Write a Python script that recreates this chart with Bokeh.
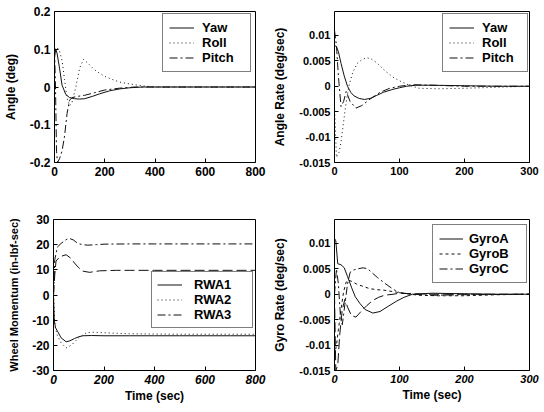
from bokeh.plotting import figure
from bokeh.layouts import column, row
from bokeh.models import Range1d, FixedTicker, Legend, LegendItem
from bokeh.embed import file_html
from bokeh.resources import INLINE

FONT = "Liberation Sans"

# ---------------- data ----------------
# Panel 1: Angle (deg)
yaw_t = [0, 5, 10, 20, 30, 45, 60, 80, 100, 120, 150, 180, 220, 260, 300, 350, 400, 500, 600, 700, 800]
yaw_v = [0.08, 0.1, 0.09, 0.05, 0.005, -0.02, -0.028, -0.031, -0.032, -0.031, -0.025, -0.018, -0.01, -0.005, -0.002, 0.0, 0.0, 0.0, 0.0, 0.0, 0.0]
roll_t = [0, 10, 20, 30, 40, 50, 60, 70, 85, 100, 115, 130, 160, 200, 230, 260, 300, 350, 400, 500, 600, 800]
roll_v = [0.1, 0.105, 0.095, 0.07, 0.02, -0.03, -0.05, -0.04, 0.0, 0.05, 0.073, 0.065, 0.045, 0.028, 0.02, 0.013, 0.008, 0.003, 0.0, 0.0, 0.0, 0.0]
pitch_t = [0, 4, 8, 12, 20, 30, 40, 50, 60, 70, 90, 120, 160, 200, 260, 320, 400, 800]
pitch_v = [0.1, 0.0, -0.17, -0.2, -0.19, -0.17, -0.13, -0.07, -0.035, -0.028, -0.025, -0.022, -0.015, -0.008, -0.003, 0.0, 0.0, 0.0]

# Panel 2: Angle Rate (deg/sec)
yaw2_t = [0, 3, 6, 10, 15, 20, 25, 30, 38, 46, 55, 65, 75, 90, 100, 111, 125, 150, 200, 250, 300]
yaw2_v = [0.008, 0.0078, 0.0068, 0.0045, 0.002, 0.0, -0.0012, -0.0019, -0.0024, -0.0026, -0.0024, -0.0018, -0.0012, -0.0006, -0.0003, 0.0, 0.0002, 0.0002, 0.0001, 0.0, 0.0]
roll2_t = [0, 3, 7, 10, 13, 17, 22, 28, 35, 43, 50, 56, 65, 78, 90, 101, 115, 130, 160, 200, 250, 300]
roll2_v = [-0.004, -0.014, -0.013, -0.011, -0.008, -0.004, 0.0, 0.0027, 0.0045, 0.0053, 0.0056, 0.0054, 0.0046, 0.003, 0.0018, 0.001, 0.0002, -0.0004, -0.0005, -0.0004, -0.0002, 0.0]
pitch2_t = [0, 3, 6, 10, 14, 18, 24, 33, 42, 55, 70, 85, 100, 120, 150, 200, 300]
pitch2_v = [0.011, 0.008, 0.002, -0.004, -0.003, -0.001, -0.003, -0.0043, -0.0038, -0.0025, -0.0012, -0.0004, 0.0, 0.0003, 0.0002, 0.0, 0.0]

# Panel 3: Wheel Momentum (in-lbf-sec)
rwa1_t = [0, 3, 8, 17, 30, 50, 65, 83, 100, 116, 150, 200, 300, 400, 500, 600, 700, 800]
rwa1_v = [0, -10, -13, -14.6, -17, -18.6, -18.2, -17.3, -16.6, -16.2, -16.1, -16.2, -16.2, -16.2, -16.2, -16.2, -16.2, -16.2]
rwa2_t = [0, 5, 15, 30, 50, 70, 100, 130, 160, 200, 250, 300, 400, 500, 600, 700, 800]
rwa2_v = [0, -12, -16, -19, -21, -20, -17, -15, -14.8, -15, -15.2, -15.4, -15.5, -15.6, -15.6, -15.6, -15.6]
rwa3_t = [0, 5, 15, 30, 50, 63, 80, 96, 115, 136, 170, 200, 300, 400, 500, 600, 700, 800]
rwa3_v = [0, 14, 19, 20.5, 22, 22.5, 21.8, 20.5, 20, 19.8, 20, 20.2, 20.3, 20.3, 20.3, 20.3, 20.3, 20.3]
rwa4_t = [0, 5, 10, 25, 50, 70, 83, 100, 115, 143, 182, 250, 300, 400, 500, 600, 700, 800]
rwa4_v = [0, 8, 13.5, 15.2, 16, 14.5, 12.7, 10.8, 9.5, 9.0, 9.6, 9.8, 9.8, 9.8, 9.8, 9.8, 9.8, 9.8]

# Panel 4: Gyro Rate (deg/sec)
gyroA_t = [0, 2, 5, 10, 15, 20, 26, 32, 39, 47, 59, 70, 81, 95, 107, 120, 150, 200, 250, 300]
gyroA_v = [0.011, 0.0105, 0.006, 0.0058, 0.0052, 0.0035, 0.0014, -0.0005, -0.0018, -0.003, -0.0037, -0.0034, -0.0025, -0.0014, -0.0006, 0.0, 0.0002, 0.0001, 0.0, 0.0]
gyroB_t = [0, 3, 6, 10, 14, 18, 21, 27, 34, 45, 54, 65, 76, 96, 110, 130, 160, 200, 250, 300]
gyroB_v = [-0.012, -0.01, -0.007, -0.003, 0.0005, 0.0024, 0.0028, 0.0025, 0.002, 0.0015, 0.0011, 0.0009, 0.0008, 0.0004, 0.0001, -0.0002, -0.0003, -0.0003, -0.0001, 0.0]
gyroC_t = [0, 3, 6, 9, 12, 16, 20, 24, 30, 36, 44, 51, 58, 66, 78, 90, 100, 120, 150, 200, 300]
gyroC_v = [0.0, 0.005, 0.002, -0.004, -0.006, -0.002, 0.002, 0.0043, 0.0048, 0.005, 0.0052, 0.005, 0.0042, 0.0033, 0.0021, 0.001, 0.0003, 0.0, -0.0002, -0.0001, 0.0]
gyroD_t = [0, 2, 5, 8, 12, 16, 20, 26, 33, 40, 50, 59, 68, 77, 90, 100, 120, 150, 200, 300]
gyroD_v = [0.0, -0.015, -0.014, -0.008, -0.003, -0.001, -0.0025, -0.0042, -0.0045, -0.0035, -0.0022, -0.0012, -0.0006, -0.0002, 0.0, 0.0002, 0.0001, 0.0, 0.0, 0.0]

# ticks
x_ticks_800 = [0, 200, 400, 600, 800]
x_labels_800 = ["0", "200", "400", "600", "800"]
x_ticks_300 = [0, 100, 200, 300]
x_labels_300 = ["0", "100", "200", "300"]
y_ticks_angle = [-0.2, -0.1, 0, 0.1, 0.2]
y_labels_angle = ["-0.2", "-0.1", "0", "0.1", "0.2"]
y_ticks_rate = [-0.015, -0.01, -0.005, 0, 0.005, 0.01]
y_labels_rate = ["-0.015", "-0.01", "-0.005", "0", "0.005", "0.01"]
y_ticks_wheel = [-30, -20, -10, 0, 10, 20, 30]
y_labels_wheel = ["-30", "-20", "-10", "0", "10", "20", "30"]

SOLID = "solid"
DOT = "1 3"
DASHDOT = "8 3 2 3"
DASH = "10 4"
SHORTDASH = "3 3"

FW, FH = 270, 204


def make_fig(xr, yr, xt, xl, yt, yl, ylabel, xlabel, borders, italic_x, tick_fs, ylab_fs, ylab_standoff):
    left, right, top, bottom = borders
    p = figure(width=FW, height=FH, x_range=Range1d(*xr), y_range=Range1d(*yr),
               output_backend="svg", toolbar_location=None,
               min_border_left=left, min_border_right=right,
               min_border_top=top, min_border_bottom=bottom)
    p.xgrid.visible = False
    p.ygrid.visible = False
    p.outline_line_color = "black"
    p.outline_line_width = 1
    p.background_fill_color = "white"
    p.border_fill_color = "white"
    for ax, ticks, labels in ((p.xaxis[0], xt, xl), (p.yaxis[0], yt, yl)):
        ax.ticker = FixedTicker(ticks=ticks)
        ax.major_label_overrides = {t: s for t, s in zip(ticks, labels)}
        ax.major_tick_in = 4
        ax.major_tick_out = 0
        ax.minor_tick_line_color = None
        ax.axis_line_color = None
        ax.major_label_text_font = FONT
        ax.major_label_text_font_size = tick_fs
        ax.major_label_text_color = "black"
        ax.axis_label_text_font = FONT
        ax.axis_label_text_font_style = "bold"
        ax.axis_label_text_color = "black"
    p.xaxis[0].major_label_text_font_style = "bold italic" if italic_x else "bold"
    p.yaxis[0].major_label_text_font_style = "bold"
    p.xaxis[0].major_label_standoff = 4
    p.yaxis[0].major_label_standoff = 4
    p.yaxis[0].axis_label = ylabel
    p.yaxis[0].axis_label_text_font_size = ylab_fs
    p.yaxis[0].axis_label_standoff = ylab_standoff
    if xlabel:
        p.xaxis[0].axis_label = xlabel
        p.xaxis[0].axis_label_text_font_size = "12px"
        p.xaxis[0].axis_label_standoff = 2
    return p


def add_series(p, series, legend_loc, pad, glyph_w, standoff, label_w):
    items = []
    for name, t, v, dash in series:
        r = p.line(t, v, line_color="#111111", line_width=1.0, line_dash=dash)
        if name:
            items.append(LegendItem(label=name, renderers=[r]))
    lg = Legend(items=items, location=legend_loc, padding=pad, spacing=0,
                glyph_width=glyph_w, glyph_height=15, label_height=15,
                label_standoff=standoff, label_width=label_w,
                label_text_font=FONT, label_text_font_size="13px",
                label_text_font_style="bold", label_text_color="black",
                border_line_color="black", border_line_width=1,
                background_fill_color="white", background_fill_alpha=1.0,
                margin=0)
    p.add_layout(lg, "center")


p1 = make_fig((0, 800), (-0.2, 0.2), x_ticks_800, x_labels_800, y_ticks_angle, y_labels_angle,
              "Angle (deg)", None, (53, 15, 11, 42), False, "12px", "12px", 9)
add_series(p1, [("Yaw", yaw_t, yaw_v, SOLID), ("Roll", roll_t, roll_v, DOT),
                ("Pitch", pitch_t, pitch_v, DASHDOT)], (108, 90), 6, 25, 8, 42)

p2 = make_fig((0, 300), (-0.015, 0.0147), x_ticks_300, x_labels_300, y_ticks_rate, y_labels_rate,
              "Angle Rate (deg/sec)", None, (60, 11, 11, 42), False, "11px", "12px", 9)
add_series(p2, [("Yaw", yaw2_t, yaw2_v, SOLID), ("Roll", roll2_t, roll2_v, DOT),
                ("Pitch", pitch2_t, pitch2_v, DASHDOT)], (108, 90), 6, 25, 8, 39)

p3 = make_fig((0, 800), (-30, 30), x_ticks_800, x_labels_800, y_ticks_wheel, y_labels_wheel,
              "Wheel Momentum (in-lbf-sec)", "Time (sec)", (53, 15, 14, 38), True, "12px", "11px", 9)
add_series(p3, [("RWA1", rwa1_t, rwa1_v, SOLID), ("RWA2", rwa2_t, rwa2_v, DOT),
                ("RWA3", rwa3_t, rwa3_v, DASHDOT), (None, rwa4_t, rwa4_v, DASH)],
           (98, 42), 5, 25, 12, 53)

p4 = make_fig((0, 300), (-0.015, 0.0147), x_ticks_300, x_labels_300, y_ticks_rate, y_labels_rate,
              "Gyro Rate (deg/sec)", "Time (sec)", (60, 11, 15, 38), True, "11px", "12px", 9)
add_series(p4, [("GyroA", gyroA_t, gyroA_v, SOLID), ("GyroB", gyroB_t, gyroB_v, SHORTDASH),
                ("GyroC", gyroC_t, gyroC_v, DASHDOT), (None, gyroD_t, gyroD_v, DASH)],
           (98, 87), 6, 24, 6, 51)

layout = column(row(p1, p2), row(p3, p4))

open("out.html", "w").write(file_html(layout, INLINE))
